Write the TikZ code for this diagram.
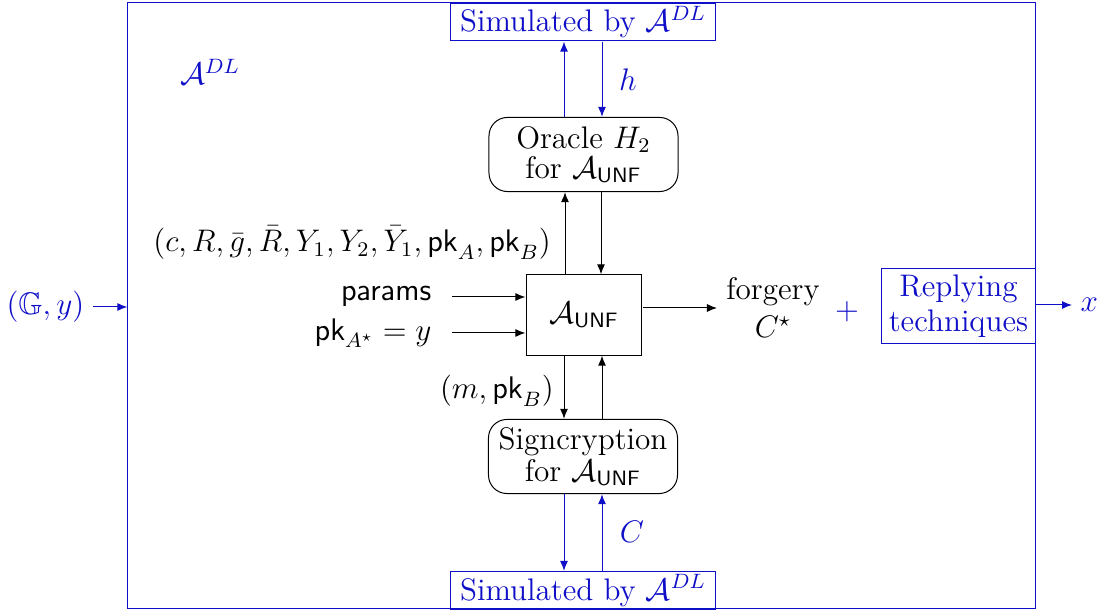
\documentclass[tikz,border=0pt]{standalone}
\usepackage{amsmath,amssymb}
\usetikzlibrary{arrows.meta,positioning}
\definecolor{dlblue}{RGB}{15,15,200}
\begin{document}
\begin{tikzpicture}[x=0.5pt,y=-0.5pt,line width=0.5pt,
  every node/.style={font=\fontsize{12}{14.5}\selectfont,scale=1.3},
  arr/.style={-{Latex[length=5pt,width=4pt]}},
  barr/.style={arr,draw=dlblue},
  bluebox/.style={draw=dlblue,text=dlblue,inner sep=0pt,align=center},
  oracle/.style={draw,rounded corners=9.2pt,align=center,minimum width=72.7pt,minimum height=28.5pt,inner sep=0pt},
  blk/.style={draw,minimum width=44.6pt,minimum height=30.8pt,inner sep=0pt},
  bl/.style={text=dlblue}]
\useasboundingbox (0,0) rectangle (1100,613);
% outer frame
\node[bluebox,minimum width=348.85pt,minimum height=233.08pt] (outer) at (581.5,306) {};
% boxes
\node[bluebox,minimum width=102.3pt,minimum height=14.6pt] (simT) at (583,22) {Simulated by $\mathcal{A}^{DL}$};
\node[bluebox,minimum width=102.3pt,minimum height=14.6pt] (simB) at (583,590.5) {Simulated by $\mathcal{A}^{DL}$};
\node[oracle] (orc) at (583.5,154.5) {Oracle $H_2$\\[-3pt]for $\mathcal{A}_{\mathsf{UNF}}$};
\node[oracle] (sig) at (583,456.5) {Signcryption\\[-2.2pt]for $\mathcal{A}_{\mathsf{UNF}}$};
\node[blk] (A) at (584,315) {$\mathcal{A}_{\mathsf{UNF}}$};
\node[bluebox,minimum width=59.2pt,minimum height=29.2pt] (rep) at (958.5,306) {Replying\\[-1pt]techniques};
% labels
\node[bl] (adl) at (210,72) {$\mathcal{A}^{DL}$};
\node[bl,anchor=east,inner sep=3.1pt] (Gy) at (93,307) {$(\mathbb{G},y)$};
\node[bl,anchor=west,inner sep=3.1pt] (x) at (1072,305) {$x$};
\node[bl] (plus) at (847,312) {$+$};
\node[align=center] (forg) at (773,308) {forgery\\[0.1pt]$C^\star$};
\node[anchor=east,inner xsep=7.7pt] (par) at (452,297) {$\mathsf{params}$};
\node[anchor=east,inner xsep=7.7pt] (pk) at (452,333) {$\mathsf{pk}_{A^\star}=y$};
\node[anchor=east] (tup) at (560,243) {$(c,R,\bar{g},\bar{R},Y_1,Y_2,\bar{Y}_1,\mathsf{pk}_A,\mathsf{pk}_B)$};
\node[anchor=east] (mpk) at (563,391) {$(m,\mathsf{pk}_B)$};
\node[bl] (h) at (628,80) {$h$};
\node[bl] (C) at (632,532) {$C$};
% connectors
\draw[barr] (Gy.east) -- (Gy.east -| outer.west);
\draw[barr] (rep.east |- x.west) -- (x.west);
\draw[barr] (564,0 |- orc.north) -- (564,0 |- simT.south);
\draw[barr] (602,0 |- simT.south) -- (602,0 |- orc.north);
\draw[arr] (565,0 |- A.north) -- (565,0 |- orc.south);
\draw[arr] (601,0 |- orc.south) -- (601,0 |- A.north);
\draw[arr] (564,0 |- A.south) -- (564,0 |- sig.north);
\draw[arr] (602,0 |- sig.north) -- (602,0 |- A.south);
\draw[barr] (564,0 |- sig.south) -- (564,0 |- simB.north);
\draw[barr] (602,0 |- simB.north) -- (602,0 |- sig.south);
\draw[arr] (par.east) -- (par.east -| A.west);
\draw[arr] (pk.east) -- (pk.east -| A.west);
\draw[arr] (A.east |- forg.west) -- (forg.west);
\end{tikzpicture}
\end{document}
